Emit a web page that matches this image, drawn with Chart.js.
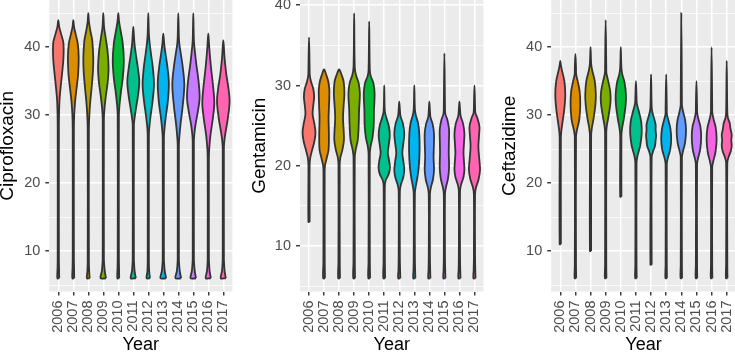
<!DOCTYPE html>
<html>
<head>
<meta charset="utf-8">
<script src="https://cdn.jsdelivr.net/npm/chart.js@4.4.0/dist/chart.umd.min.js"></script>
<style>
html, body { margin: 0; padding: 0; background: #fff; width: 735px; height: 354px; overflow: hidden; }
canvas { position: absolute; top: 0; }
</style>
</head>
<body>
<canvas id="c1" width="245" height="354" style="left:0px"></canvas>
<canvas id="c2" width="245" height="354" style="left:245px"></canvas>
<canvas id="c3" width="246" height="354" style="left:490px"></canvas>
<script>
const years = ['2006', '2007', '2008', '2009', '2010', '2011', '2012', '2013', '2014', '2015', '2016', '2017'];
const hueColours = ['#F8766D', '#DE8C00', '#B79F00', '#7CAE00', '#00BA38', '#00C08B',
                    '#00BFC4', '#00B4F0', '#619CFF', '#C77CFF', '#F564E3', '#FF64B0'];

// violin outlines: [zone diameter, half width in category units], bottom to top
const ciproProfiles = [
  [[6,0.06],[7.5,0.05],[9,0.04],[28,0.04],[30.2,0.05],[32.2,0.08],[34.2,0.16],[36.1,0.25],[38.3,0.34],[40.6,0.34],[42,0.18],[43,0.06],[44,0]],
  [[6,0.06],[7.5,0.05],[9,0.04],[28,0.04],[30,0.06],[32,0.12],[34,0.22],[36,0.32],[38.5,0.36],[40.5,0.3],[42,0.15],[43,0.05],[44,0]],
  [[6,0.09],[7,0.06],[8.5,0.04],[28,0.04],[30,0.07],[32,0.13],[34,0.22],[36.5,0.31],[38.5,0.33],[41,0.26],[42.5,0.13],[43.8,0.04],[45,0]],
  [[6,0.18],[7,0.1],[8.5,0.045],[9.5,0.04],[29.5,0.04],[31,0.08],[33,0.18],[35,0.3],[37,0.35],[39.5,0.28],[41.5,0.15],[43,0.05],[45,0]],
  [[6,0.06],[7.5,0.05],[9,0.04],[30,0.04],[31.5,0.08],[33.5,0.18],[35.5,0.3],[38,0.37],[40.5,0.3],[42.5,0.15],[43.8,0.05],[45,0]],
  [[6,0.17],[7,0.09],[8.5,0.045],[9.5,0.04],[28.5,0.04],[29.5,0.08],[31,0.18],[33,0.32],[35,0.4],[37,0.3],[38.8,0.18],[40.5,0.08],[41.8,0.04],[43,0]],
  [[6,0.11],[7,0.06],[8.5,0.04],[27,0.04],[28,0.06],[29.5,0.13],[32,0.28],[34.5,0.38],[37,0.3],[39,0.18],[40.8,0.08],[42,0.04],[45,0]],
  [[6,0.19],[7,0.1],[8.5,0.045],[9.5,0.04],[26.5,0.04],[27.5,0.06],[29.5,0.15],[32,0.3],[34.7,0.37],[37,0.28],[39,0.15],[40.5,0.06],[42,0]],
  [[6,0.19],[7,0.1],[8.5,0.045],[9.5,0.04],[25.5,0.04],[26.5,0.06],[28.5,0.14],[31.5,0.3],[34.5,0.4],[37,0.3],[39,0.17],[40.5,0.07],[41.5,0.04],[45,0]],
  [[6,0.18],[7,0.1],[8.5,0.045],[9.5,0.04],[26,0.04],[27,0.06],[28.5,0.14],[30.5,0.3],[32.5,0.42],[35,0.35],[37.5,0.2],[39.5,0.1],[41,0.04],[45,0]],
  [[6,0.17],[7,0.09],[8.5,0.045],[9.5,0.04],[23.5,0.04],[25,0.06],[27,0.14],[29.5,0.3],[31.7,0.4],[34,0.33],[37,0.18],[39.5,0.08],[40.8,0.04],[42,0]],
  [[6,0.17],[7,0.09],[8.5,0.045],[9.5,0.04],[25,0.04],[26,0.06],[27.5,0.15],[29.5,0.3],[32,0.42],[34,0.34],[36,0.2],[38.5,0.08],[40,0.04],[41,0]]
];

const gentaProfiles = [
  [[13,0.04],[20,0.04],[21,0.08],[22,0.21],[23,0.35],[24.1,0.43],[25.2,0.36],[26.4,0.24],[27.5,0.28],[28.6,0.34],[29.6,0.28],[30.5,0.13],[31.3,0.05],[32,0.04],[36,0]],
  [[6,0.06],[8,0.045],[19,0.04],[20,0.06],[21,0.18],[22,0.3],[24,0.32],[26,0.3],[28,0.34],[29.5,0.35],[30.5,0.28],[31.3,0.15],[32,0]],
  [[6,0.06],[8,0.045],[20,0.04],[21,0.08],[22,0.22],[23.2,0.32],[24.5,0.3],[26,0.26],[27.5,0.3],[29,0.35],[30.5,0.3],[31.4,0.15],[32,0]],
  [[6,0.06],[8,0.045],[21,0.04],[22,0.1],[23.2,0.24],[25,0.3],[27,0.33],[29,0.38],[30.3,0.3],[31.3,0.12],[32.3,0.04],[39,0]],
  [[6,0.06],[8,0.045],[21.5,0.04],[22.5,0.1],[23.5,0.22],[25,0.3],[27,0.32],[29,0.36],[30.3,0.28],[31.2,0.1],[32,0.04],[38,0]],
  [[6,0.06],[8,0.045],[17.5,0.04],[18.2,0.1],[19,0.3],[19.8,0.38],[20.7,0.32],[21.6,0.24],[22.6,0.3],[23.8,0.37],[25,0.3],[26,0.14],[26.8,0.04],[30,0]],
  [[6,0.07],[7,0.055],[8.5,0.04],[16.8,0.04],[17.6,0.1],[18.6,0.27],[19.5,0.33],[20.6,0.27],[21.6,0.2],[22.8,0.27],[24,0.33],[25.2,0.25],[26.2,0.08],[27,0.04],[28,0]],
  [[6,0.07],[7,0.055],[8.5,0.04],[16.6,0.04],[17.5,0.1],[18.5,0.2],[20,0.3],[22,0.35],[24,0.33],[25.3,0.25],[26.3,0.1],[27,0.04],[30,0]],
  [[6,0.07],[7,0.055],[8.5,0.04],[16.5,0.04],[17.3,0.1],[18.3,0.24],[19.5,0.31],[21,0.28],[22.5,0.3],[24,0.31],[25.2,0.22],[26,0.08],[26.8,0.04],[28,0]],
  [[6,0.07],[7,0.055],[8.5,0.04],[16.5,0.04],[17.3,0.1],[18.4,0.24],[19.8,0.31],[21.5,0.29],[23,0.3],[24.5,0.31],[25.7,0.2],[26.5,0.06],[27.3,0.04],[34,0]],
  [[6,0.07],[7,0.055],[8.5,0.04],[16.8,0.04],[17.6,0.1],[18.6,0.27],[19.5,0.33],[20.6,0.3],[21.6,0.27],[22.8,0.3],[24,0.33],[25.2,0.25],[26.2,0.08],[27,0.04],[28,0]],
  [[6,0.07],[7,0.055],[8.5,0.04],[16.5,0.04],[17.3,0.1],[18.3,0.27],[19.5,0.37],[20.8,0.32],[22.4,0.26],[23.7,0.3],[24.9,0.33],[25.9,0.2],[26.6,0.06],[27.3,0.04],[30,0]]
];

const ceftaProfiles = [
  [[11,0.04],[26.5,0.04],[27.5,0.06],[29,0.15],[31,0.27],[33,0.33],[35,0.27],[36.5,0.12],[37.3,0.045],[38,0]],
  [[6,0.05],[8,0.04],[26.8,0.04],[27.8,0.1],[29.3,0.25],[31.5,0.32],[33.5,0.28],[35,0.15],[36,0.05],[37,0.04],[39,0]],
  [[10,0.04],[27,0.04],[28,0.08],[29.5,0.2],[31.5,0.32],[33,0.35],[35,0.28],[36.5,0.12],[37.5,0.045],[40,0]],
  [[6,0.05],[8,0.04],[27.5,0.04],[28.5,0.08],[30,0.2],[32,0.32],[33.5,0.3],[35,0.17],[36.2,0.05],[37,0.04],[44,0]],
  [[18,0.04],[27,0.04],[28,0.08],[29.5,0.2],[31.5,0.32],[33,0.34],[34.8,0.25],[36,0.1],[37,0.04],[40,0]],
  [[6,0.05],[8,0.04],[23,0.04],[24,0.1],[25.5,0.28],[27.3,0.38],[29,0.35],[30.5,0.2],[31.7,0.06],[32.5,0.04],[35,0]],
  [[8,0.04],[23.8,0.04],[24.6,0.12],[25.5,0.26],[26.3,0.3],[27,0.33],[27.8,0.3],[28.6,0.3],[29.5,0.2],[30.5,0.08],[31.3,0.04],[36,0]],
  [[6,0.05],[8,0.04],[22.8,0.04],[23.6,0.1],[25,0.27],[26.5,0.33],[28,0.28],[29.3,0.14],[30.2,0.045],[31,0.04],[36,0]],
  [[6,0.05],[8,0.04],[23.8,0.04],[24.6,0.1],[26,0.25],[27.8,0.31],[29.3,0.25],[30.5,0.12],[31.4,0.045],[32.3,0.04],[45,0]],
  [[6,0.05],[8,0.04],[22.8,0.04],[23.6,0.1],[25,0.25],[26.8,0.31],[28.3,0.26],[29.5,0.12],[30.4,0.045],[31.2,0.04],[35,0]],
  [[6,0.05],[8,0.04],[22.3,0.04],[23.1,0.1],[24.6,0.26],[26.5,0.33],[28.2,0.27],[29.5,0.12],[30.4,0.045],[31.2,0.04],[40,0]],
  [[6,0.05],[8,0.04],[23,0.04],[23.8,0.12],[24.8,0.28],[25.6,0.33],[26.3,0.3],[27.1,0.33],[28,0.25],[28.8,0.2],[29.6,0.08],[30.4,0.04],[38,0]]
];

const FONT = "'Liberation Sans', Arial, Helvetica, sans-serif";

// grey panel like ggplot
const panelBg = {
  id: 'panelBg',
  beforeDraw(chart) {
    const a = chart.chartArea, ctx = chart.ctx;
    ctx.save();
    ctx.fillStyle = '#EBEBEB';
    ctx.fillRect(a.left, a.top, a.right - a.left, a.bottom - a.top);
    ctx.restore();
  }
};

function violinPoints(profile, i) {
  const right = profile.map(([v, w]) => ({x: i + w, y: v}));
  const left = profile.slice().reverse().map(([v, w]) => ({x: i - w, y: v}));
  return right.concat(left.slice(1), [right[0]]);
}

function makePanel(id, title, profiles, axisW, padRight, titlePad) {
  const all = profiles.flat().map(p => p[0]);
  const lo = Math.min(...all), hi = Math.max(...all);
  const ex = (hi - lo) * 0.05;

  const datasets = profiles.map((prof, i) => ({
    data: violinPoints(prof, i),
    borderColor: '#333333',
    borderWidth: 1.8,
    backgroundColor: hueColours[i],
    fill: 'shape',
    tension: 0.35,
    pointRadius: 0
  }));

  return new Chart(document.getElementById(id), {
    type: 'line',
    data: { datasets },
    plugins: [panelBg],
    options: {
      responsive: false,
      animation: false,
      events: [],
      layout: { padding: { left: 0, top: 0, bottom: 0, right: padRight } },
      plugins: { legend: { display: false }, tooltip: { enabled: false } },
      scales: {
        x: {
          type: 'linear',
          min: -0.6, max: 11.6,
          afterBuildTicks: s => { s.ticks = years.map((y, i) => ({value: i})); },
          afterFit: s => { s.height = 62.5; s.paddingLeft = 0; s.paddingRight = 0; },
          border: { display: false },
          grid: { color: '#FFFFFF', lineWidth: 1.5, tickColor: '#333333', tickLength: 4, tickWidth: 1.4 },
          ticks: {
            autoSkip: false, minRotation: 90, maxRotation: 90, padding: 5,
            color: '#4D4D4D', font: { family: FONT, size: 14.5 },
            callback: v => years[v]
          },
          title: { display: true, text: 'Year', color: '#000', font: { family: FONT, size: 18, lineHeight: 1 }, padding: 0 }
        },
        y: {
          type: 'linear',
          min: lo - ex, max: hi + ex,
          afterBuildTicks: s => {
            const t = [];
            for (let v = 5; v <= s.max; v += 5) if (v >= s.min) t.push({value: v});
            s.ticks = t;
          },
          afterFit: s => { s.width = axisW; s.paddingTop = 0; s.paddingBottom = 0; },
          border: { display: false },
          grid: {
            color: '#FFFFFF',
            lineWidth: c => (c.tick && c.tick.value % 10 === 0) ? 1.5 : 0.75,
            tickColor: c => (c.tick && c.tick.value % 10 === 0) ? '#333333' : 'rgba(0,0,0,0)',
            tickLength: 4, tickWidth: 1.4
          },
          ticks: {
            autoSkip: false, padding: 5,
            color: '#4D4D4D', font: { family: FONT, size: 14.5 },
            callback: v => (v % 10 === 0 ? String(v) : '')
          },
          title: { display: true, text: title, color: '#000', font: { family: FONT, size: 19, lineHeight: 1 }, padding: { top: titlePad, bottom: 0 } }
        }
      }
    }
  });
}

makePanel('c1', 'Ciprofloxacin', ciproProfiles, 49.3, 12.7, -1.5);
makePanel('c2', 'Gentamicin', gentaProfiles, 55, 6.5, 5.5);
makePanel('c3', 'Ceftazidime', ceftaProfiles, 61.2, 0.2, 10.5);
</script>
</body>
</html>
